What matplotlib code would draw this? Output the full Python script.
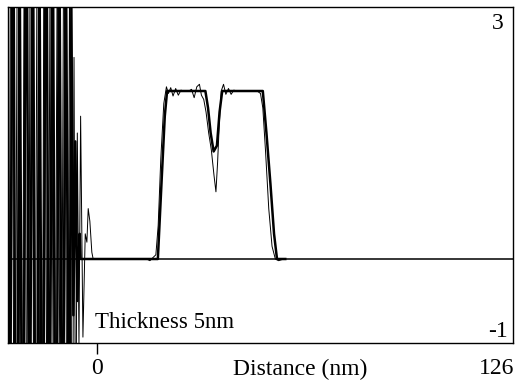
import numpy as np
import matplotlib.pyplot as plt

plt.rcParams['font.family'] = ['Liberation Serif', 'DejaVu Serif']

# thin trace: noisy start region then the profile (distance in nm, value)
thin_x = [-27, -26, -25, -24, -23, -22, -21, -20, -19, -18, -17, -16, -15,
          -14, -13, -12, -11, -10, -9, -8.3, -7.5, -7.0, -6.5, -6.0, -5.5,
          -5.0, -4.3, -3.6, -3.1, -2.7, -2.2, -1.6, -1.2, 0, 15, 16, 17,
          17.8, 18.5, 19.3, 20.2, 21.0, 21.6, 22.3, 23.0, 23.8, 24.6, 25.4,
          26.2, 27.0, 27.8, 28.6, 29.4, 30.2, 31.0, 31.6, 32.3, 33.0, 33.8,
          34.6, 35.4, 36.0, 36.5, 37.0, 37.6, 38.3, 39.0, 39.8, 40.6, 41.4,
          42.4, 43.5, 45, 47, 48.5, 49.5, 50.2, 51.0, 52.0, 53.0, 54.0, 55.0,
          56.5]
thin_y = [-6, 7, -5, 6, -7, 5, -6, 8, -5, 6, -7, 5, -4, 6, -5, 4.5, -4, 5,
          -4, 4, -4, 2.4, -3, 1.5, -1.0, 1.7, -0.93, 0.3, 0.2, 0.6, 0.45,
          0.08, 0.0, 0.0, 0.0, -0.02, 0.02, 0.05, 0.4, 1.2, 1.85, 2.05, 1.97,
          2.04, 1.94, 2.03, 1.95, 2.01, 2.0, 2.0, 2.0, 2.02, 1.92, 2.05, 2.08,
          1.95, 1.9, 1.75, 1.5, 1.3, 1.0, 0.8, 1.15, 1.6, 2.0, 2.08, 1.96,
          2.03, 1.96, 2.01, 2.0, 2.0, 2.0, 2.0, 2.0, 1.97, 1.8, 1.3, 0.6,
          0.15, 0.0, -0.02, 0.0]

# thick trace: smoother reconstruction
thick_x = [-27.5, -26.5, -25.5, -24.5, -23.5, -22.5, -21.5, -20.5, -19.5,
           -18.5, -17.5, -16.5, -15.5, -14.5, -13.5, -12.5, -11.5, -10.5,
           -9.5, -8.5, -7.8, -7.2, -6.6, -6.0, -5.3, -5.0, 16, 18.4, 19.5,
           20.5, 21.2, 32.8, 33.6, 34.4, 35.3, 36.3, 37.1, 37.9, 50.2, 51.3,
           52.5, 53.6, 54.5, 57]
thick_y = [5, -4, 6, -6, 4, -5, 6, -4, 5, -6, 4, -5, 6, -4, 5, -5, 4.5,
           -4, 4, -3, 3, -0.67, 1.4, -0.5, 0.3, 0.0, 0.0, 0.0, 0.9, 1.7,
           2.0, 2.0, 1.8, 1.5, 1.28, 1.35, 1.75, 2.0, 2.0, 1.5, 0.9, 0.3,
           0.0, 0.0]

fig = plt.figure(figsize=(5.19, 3.83), dpi=100)
ax = fig.add_axes([8 / 519, 1 - 343 / 383, 505 / 519, 336 / 383])

ax.axhline(0, color='black', lw=1.1)
ax.plot(thick_x, thick_y, color='black', lw=1.8)
ax.plot(thin_x, thin_y, color='black', lw=0.7)

ax.set_xlim(-27, 126)
ax.set_ylim(-1, 3)
ax.set_yticks([])
ax.set_xticks([0])
ax.set_xticklabels([''])
ax.tick_params(axis='x', direction='out', length=8, width=1)
for s in ax.spines.values():
    s.set_linewidth(1)

ax.text(0.982, 0.95, '3', transform=ax.transAxes, fontsize=17,
        ha='right', va='center')
ax.text(0.99, 0.035, '-1', transform=ax.transAxes, fontsize=17,
        ha='right', va='center')
ax.text(-0.6, -0.82, 'Thickness 5nm', fontsize=16.5, ha='left',
        va='baseline')

fig.text(97 / 519, 1 - 369 / 383, '0', fontsize=17, ha='center', va='center')
fig.text(300 / 519, 1 - 369 / 383, 'Distance (nm)', fontsize=17,
         ha='center', va='center')
fig.text(497 / 519, 1 - 369 / 383, '126', fontsize=17, ha='center',
         va='center')

fig.savefig('out.png', dpi=100)
